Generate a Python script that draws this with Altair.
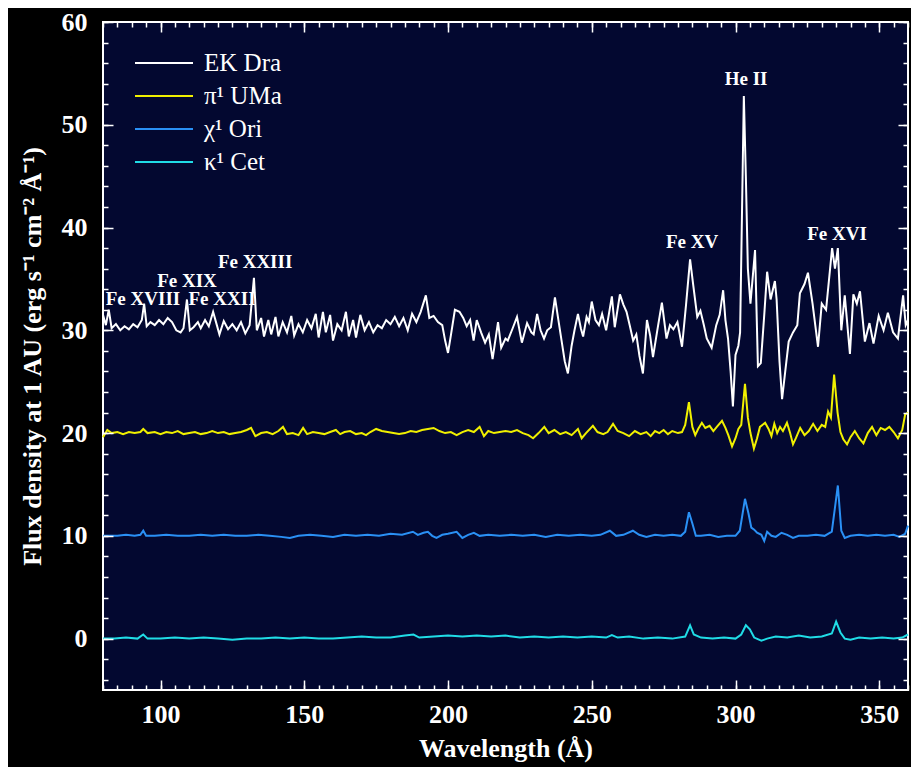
import altair as alt
import pandas as pd

# ---------------- data ----------------
series_names = ["EK Dra", "π¹ UMa", "χ¹ Ori", "κ¹ Cet"]
series_colors = ["#ffffff", "#f0f000", "#2a90f5", "#20dce6"]

ek_wl = [80, 81, 82, 83, 84.5, 86, 87.5, 89, 90.5, 92, 93.5, 94.3, 95.2, 96.5, 98, 99.5,
         101, 102.5, 104, 105.5, 107, 108, 109.2, 110.2, 111.5, 113, 114, 115.5, 116.8,
         118.3, 119.5, 120.5, 122, 123.5, 125, 126.5, 128, 129.5, 131, 132.5, 133.5, 135,
         136, 137.5, 138.5, 140, 141, 142.5, 144, 145.5, 146.5, 148, 149.5, 151, 152.5,
         154, 155, 156.5, 157.5, 159, 160, 161.5, 163, 164.5, 165.5, 167, 168, 169.5, 171,
         172.5, 174, 175.5, 177, 178.5, 180, 181.5, 183, 184.5, 186, 187.5, 189, 190.5,
         192.3, 193.5, 195, 196.5, 198, 199, 200, 201, 202.4, 204, 205.3, 206.5, 207.7,
         208.9, 210, 211.5, 212.9, 214.2, 215.5, 217.4, 218.5, 220, 220.8, 222.5, 224,
         225.7, 227.5, 229, 229.8, 231, 232.2, 233.4, 234.5, 235.8, 237.2, 238.4, 239.5,
         240.6, 241.7, 243, 244, 245.2, 246.2, 247, 248.2, 249, 250, 251.3, 252.5, 253.6,
         255, 257, 258, 259.8, 261, 262.1, 263.2, 264.4, 265.5, 266.6, 267.8, 269.2, 270.3,
         271.3, 272.8, 274.4, 276, 277.2, 278.4, 279.8, 281.4, 282.8, 284.2, 285.3, 286.7,
         287.8, 289, 290, 291.7, 293.3, 294.5, 295.7, 296.5, 297.4, 298.3, 299.1, 300.0,
         301.0, 301.6, 302.9, 303.6, 304.3, 305.2, 306.8, 307.8, 308.8, 310, 311, 312.2,
         313.7, 314.3, 315.3, 316.2, 317.3, 318.5, 320, 321.5, 322.4, 324, 325.2, 326.8,
         328.7, 330, 331.5, 333.6, 334.6, 335.6, 336.8, 338, 339.8, 341, 342.2, 343.3, 345,
         346.6, 348, 349.8, 351.5, 353, 354.8, 356.5, 358.3, 359.2, 360]
ek_flux = [31.5, 30.5, 32.0, 30.2, 30.6, 30.0, 30.4, 30.1, 30.6, 30.3, 31.0, 32.6, 30.4,
           30.8, 30.5, 31.0, 30.6, 31.2, 30.8, 30.0, 29.8, 30.2, 33.0, 30.0, 30.3, 30.8,
           30.2, 31.0, 30.4, 31.8, 30.6, 29.6, 30.9, 30.1, 30.6, 30.0, 30.8, 29.7, 30.5,
           35.1, 30.0, 31.2, 29.4, 31.0, 29.6, 31.3, 29.4, 30.8, 29.8, 31.4, 29.5, 30.6,
           29.8, 31.0, 30.2, 31.6, 29.3, 31.8, 29.8, 31.5, 29.0, 30.6, 30.0, 31.8, 29.4,
           31.0, 29.3, 31.5, 30.0, 30.8, 29.8, 30.5, 30.2, 31.0, 30.6, 31.3, 30.4, 31.2,
           30.0, 31.6, 30.8, 31.8, 33.4, 31.2, 31.4, 30.8, 30.5, 29.0, 27.8, 29.5, 32.0,
           31.8, 31.2, 30.4, 31.0, 29.0, 31.0, 29.8, 28.8, 29.6, 27.2, 30.8, 28.3, 29.2,
           29.0, 30.2, 31.3, 28.8, 30.7, 29.8, 29.6, 31.6, 30.0, 29.2, 30.0, 30.3, 33.2,
           31.0, 29.0, 27.0, 25.8, 28.5, 30.0, 31.6, 30.2, 29.4, 31.3, 30.8, 32.8, 31.0,
           30.5, 31.6, 30.0, 33.3, 30.3, 33.5, 32.5, 31.8, 30.5, 29.0, 29.6, 27.5, 25.8,
           31.0, 29.5, 27.4, 30.0, 32.7, 29.2, 30.5, 30.1, 30.8, 28.4, 32.5, 36.9, 34.4,
           31.3, 31.9, 30.5, 29.2, 28.3, 30.5, 31.5, 33.9, 31.0, 29.2, 26.0, 22.6, 27.6,
           28.5, 29.8, 52.8, 45.0, 36.0, 32.6, 37.8, 26.5, 26.8, 31.5, 35.7, 33.0, 34.8,
           33.0, 27.0, 23.3, 26.0, 28.9, 29.8, 30.5, 33.6, 34.5, 35.6, 32.6, 28.4, 32.6,
           32.0, 38.0, 36.0, 38.0, 30.0, 33.4, 27.7, 33.5, 32.6, 33.8, 28.9, 30.7, 28.7,
           31.4, 30.0, 31.7, 29.8, 29.2, 33.4, 30.5, 31.0]

pi_wl = [80, 81.5, 83, 85, 87, 89, 91, 93, 94, 95.5, 98, 100, 102, 104, 106, 108, 110, 112,
         114, 116, 118, 120, 122, 124, 126, 128, 130, 131.5, 133, 135, 137, 139, 141, 142.6,
         144, 146, 148, 149.6, 151, 153, 155, 157, 159, 161, 162.5, 164, 166, 168, 170,
         171.5, 173, 175, 177, 179, 181, 183, 185, 187, 189, 191, 193, 195, 197, 199, 201,
         203, 205, 207, 209, 211, 212.5, 214, 216, 218, 220, 222, 224, 226, 228, 229.6,
         231.5, 233.5, 235, 237, 239, 241, 243, 245.2, 246.5, 248, 250.4, 252, 254, 255.5,
         257.4, 259, 261, 263, 265, 267, 269, 270.5, 272, 273.5, 275, 276.5, 278, 280, 281.4,
         282.5, 283.8, 285, 286, 287, 288.3, 289.5, 291, 292.3, 293.5, 295.3, 296.5, 297.5,
         298.8, 300, 301, 302, 303.3, 304.3, 305.2, 306.4, 307.5, 308.5, 310.3, 311.5,
         312.5, 313.5, 314.5, 315.5, 316.5, 317.9, 319, 320, 321, 322.5, 324, 325.5, 327,
         328.5, 330, 331.2, 332.2, 333.2, 334.3, 335.5, 336.5, 337.5, 338.8, 340, 341.5,
         343, 344.5, 346, 347.5, 349, 350.5, 352, 353.5, 355, 356.5, 358, 359, 360]
pi_flux = [19.6, 20.3, 20.0, 20.1, 19.9, 20.1, 20.0, 20.1, 20.4, 20.0, 20.1, 19.9, 20.1,
           20.0, 20.2, 19.9, 20.0, 20.1, 19.9, 20.0, 20.2, 20.0, 20.1, 19.9, 20.0, 20.1,
           20.3, 20.5, 19.7, 20.0, 20.1, 19.9, 20.2, 20.6, 19.9, 20.0, 19.8, 20.5, 19.9,
           20.1, 20.0, 19.9, 20.1, 20.3, 19.9, 20.1, 20.2, 19.9, 20.0, 19.8, 20.1, 20.4,
           20.2, 20.1, 20.0, 19.9, 20.0, 20.2, 20.1, 20.3, 20.4, 20.5, 20.2, 20.0, 20.1,
           19.8, 20.1, 20.3, 20.1, 20.6, 19.7, 20.2, 20.0, 20.1, 20.2, 20.1, 20.3, 20.0,
           19.8, 19.5, 20.0, 20.6, 20.0, 20.3, 19.9, 20.1, 19.8, 20.4, 19.5, 20.0, 20.7,
           20.1, 19.9, 20.1, 20.9, 20.2, 20.0, 19.7, 20.2, 19.9, 20.1, 19.7, 20.2, 20.0,
           20.3, 19.9, 20.2, 20.0, 20.1, 20.8, 23.0, 20.6, 19.8, 20.4, 21.0, 20.5, 20.7,
           20.2, 20.6, 21.2, 20.5, 19.8, 18.7, 19.5, 20.4, 20.8, 24.8, 21.5, 20.0, 18.5,
           19.5, 20.6, 21.0, 20.4, 19.7, 20.9, 20.0, 20.6, 20.2, 21.0, 20.0, 18.9, 19.5,
           20.5, 19.8, 20.2, 20.9, 20.2, 20.8, 20.6, 22.1, 21.5, 25.7, 22.0, 20.1, 19.4,
           18.9, 19.6, 20.2, 19.5, 19.0, 20.0, 20.6, 19.8, 20.5, 20.3, 20.6, 20.1, 19.5,
           20.3, 21.8, 22.0]

chi_wl = [80, 82, 85, 88, 91, 93, 94, 95, 98, 102, 106, 110, 114, 118, 122, 126, 130, 134,
          138, 142, 145, 148, 152, 156, 160, 164, 168, 172, 176, 180, 184, 187.8, 189.5,
          191.5, 193, 194.5, 196, 198, 200, 203, 205, 207, 209, 211, 214, 218, 222, 226, 230,
          234, 238, 242, 246, 250, 253, 256.3, 258.5, 261, 264.3, 266.5, 269, 272, 275, 278,
          281, 282.5, 283.8, 285, 286.2, 288, 291, 294, 297, 300, 301.5, 303.3, 304.5,
          305.5, 306.5, 307.5, 309, 310, 311, 312.5, 314, 316, 318, 320, 322, 325, 328, 331,
          333.5, 335.6, 336.8, 338, 340, 343, 346, 349, 352, 355, 357, 359, 360]
chi_flux = [10.0, 10.0, 10.0, 10.1, 10.0, 10.1, 10.5, 10.0, 10.0, 10.1, 10.0, 10.0, 10.1,
            10.0, 10.1, 10.0, 10.0, 10.1, 10.0, 9.9, 9.8, 10.0, 10.1, 10.0, 9.9, 10.1, 10.0,
            10.1, 10.0, 10.2, 10.1, 10.4, 10.1, 10.3, 10.4, 10.0, 9.8, 10.1, 10.2, 10.4,
            9.8, 10.1, 10.3, 10.0, 10.1, 10.0, 10.1, 10.0, 10.1, 9.9, 10.1, 10.0, 10.1,
            10.0, 10.1, 10.5, 10.0, 10.1, 10.5, 10.1, 9.9, 10.1, 10.0, 10.1, 10.0, 10.4,
            12.3, 11.2, 10.0, 10.0, 10.1, 9.9, 10.0, 10.0, 10.5, 13.6, 12.2, 10.8, 10.6,
            10.3, 10.1, 9.5, 10.4, 10.0, 9.9, 10.3, 10.1, 9.8, 10.0, 10.0, 10.1, 10.0, 10.4,
            14.9, 10.5, 9.8, 10.0, 10.1, 10.0, 10.1, 10.0, 10.1, 9.9, 10.2, 11.0]

kap_wl = [80, 84, 88, 92, 94, 95.5, 100, 105, 110, 115, 120, 125, 130, 135, 140, 145, 150,
          155, 160, 165, 170, 175, 180, 185, 188, 190, 195, 200, 205, 210, 215, 220, 225,
          230, 235, 240, 245, 250, 255, 257, 259, 263, 268, 273, 278, 282.5, 284.2, 285.5,
          288, 292, 296, 300, 302, 303.6, 305, 306.5, 309, 311, 314, 318, 322, 326, 330,
          333.5, 335, 336.5, 338, 340, 343, 347, 351, 355, 358, 360]
kap_flux = [0.0, 0.0, 0.1, 0.0, 0.4, 0.0, 0.0, 0.1, 0.0, 0.1, 0.0, -0.1, 0.0, 0.0, 0.1,
            0.0, 0.1, 0.0, 0.0, 0.1, 0.2, 0.1, 0.1, 0.3, 0.4, 0.1, 0.2, 0.3, 0.2, 0.3, 0.2,
            0.3, 0.1, 0.2, 0.1, 0.2, 0.1, 0.2, 0.1, 0.35, 0.1, 0.2, 0.0, 0.1, 0.0, 0.2, 1.3,
            0.4, 0.1, 0.0, 0.1, 0.0, 0.4, 1.3, 0.9, 0.1, -0.2, 0.0, 0.2, 0.1, 0.3, 0.1, 0.2,
            0.5, 1.65, 0.6, 0.0, -0.1, 0.1, 0.0, 0.1, 0.0, 0.1, 0.4]

# line identifications (label, wavelength, flux position of the label)
ion_labels = ["Fe XVIII", "Fe XIX", "Fe XXII", "Fe XXIII", "Fe XV", "He II", "Fe XVI"]
ion_wl = [93.9, 109.2, 121.4, 132.9, 284.9, 303.7, 335.3]
ion_flux = [33.0, 34.8, 33.0, 36.6, 38.6, 54.5, 39.4]

x_major = [100, 150, 200, 250, 300, 350]
x_minor = list(range(80, 361, 5))
y_major = [0, 10, 20, 30, 40, 50, 60]
y_minor = list(range(-4, 61, 2))

# ---------------- build tables ----------------
frames = []
for name, wl, fl in zip(series_names,
                        [ek_wl, pi_wl, chi_wl, kap_wl],
                        [ek_flux, pi_flux, chi_flux, kap_flux]):
    frames.append(pd.DataFrame({"wl": wl, "flux": fl, "star": name}))
spec = pd.concat(frames, ignore_index=True)

ions = pd.DataFrame({"label": ion_labels, "wl": ion_wl, "flux": ion_flux})
legend_df = pd.DataFrame({"star": series_names, "row": list(range(len(series_names)))})

W, H = 805, 668
FONT = "Liberation Serif"

xscale = alt.Scale(domain=[80, 360], nice=False, zero=False)
yscale = alt.Scale(domain=[-5, 60], nice=False, zero=False)
cscale = alt.Scale(domain=series_names, range=series_colors)


def tick_axis(orient, values, size, **kw):
    """Axis whose ticks point into the plot: the axis is moved inward by its tick length."""
    return alt.Axis(orient=orient, values=values, offset=-size, tickSize=size,
                    tickWidth=1.5, tickColor="white", tickOpacity=1, domain=False,
                    grid=False, zindex=2, **kw)


no_labels = dict(labels=False, title=None)

lines = alt.Chart(spec).mark_line(strokeWidth=2).encode(
    x=alt.X("wl:Q", scale=xscale,
            axis=tick_axis("bottom", x_major, 10, title="Wavelength (Å)", format="d",
                           labelFont=FONT, labelFontSize=26, labelFontWeight="bold",
                           labelColor="white", labelPadding=11, titleFont=FONT,
                           titleFontSize=26, titleFontWeight="bold",
                           titleColor="white", titlePadding=8)),
    y=alt.Y("flux:Q", scale=yscale,
            axis=tick_axis("left", y_major, 10,
                           title="Flux density at 1 AU (erg s⁻¹ cm⁻² Å⁻¹)", format="d",
                           labelFont=FONT, labelFontSize=26, labelFontWeight="bold",
                           labelColor="white", labelPadding=16, titleFont=FONT,
                           titleFontSize=26, titleFontWeight="bold",
                           titleColor="white", titlePadding=16)),
    color=alt.Color("star:N", scale=cscale, legend=None),
    detail="star:N",
)

ion_text = alt.Chart(ions).mark_text(font=FONT, fontSize=19, fontWeight="bold",
                                     color="white").encode(
    x=alt.X("wl:Q", scale=xscale, axis=tick_axis("bottom", x_minor, 5, **no_labels)),
    y=alt.Y("flux:Q", scale=yscale, axis=tick_axis("left", y_minor, 5, **no_labels)),
    text="label:N",
)

# invisible carriers for the top and right frame ticks
top_major = alt.Chart(ions).mark_point(opacity=0).encode(
    x=alt.X("wl:Q", scale=xscale, axis=tick_axis("top", x_major, 10, **no_labels)),
    y=alt.Y("flux:Q", scale=yscale, axis=tick_axis("right", y_major, 10, **no_labels)),
)
top_minor = alt.Chart(ions).mark_point(opacity=0).encode(
    x=alt.X("wl:Q", scale=xscale, axis=tick_axis("top", x_minor, 5, **no_labels)),
    y=alt.Y("flux:Q", scale=yscale, axis=tick_axis("right", y_minor, 5, **no_labels)),
)

# legend rows: pixel row position computed from the row index (41 px first row, 33 px apart)
leg_base = alt.Chart(legend_df).transform_calculate(py="41 + 33 * datum.row")
leg_lines = leg_base.mark_rule(strokeWidth=2).encode(
    y=alt.Y("py:Q", scale=None, axis=None), x=alt.value(32), x2=alt.value(90),
    color=alt.Color("star:N", scale=cscale, legend=None),
)
leg_text = leg_base.mark_text(font=FONT, fontSize=25, color="white",
                              align="left", baseline="middle").encode(
    y=alt.Y("py:Q", scale=None, axis=None), x=alt.value(101), text="star:N",
)

chart = alt.layer(lines, ion_text, top_major, top_minor, leg_lines, leg_text
                  ).resolve_axis(x="independent", y="independent").properties(
    width=W, height=H,
    background="#000000",
    autosize=alt.AutoSizeParams(type="none"),
    padding={"left": 95, "top": 14, "right": 3, "bottom": 77},
).configure_view(fill="#030830", stroke="white", strokeWidth=2)

chart.save("out.html", embed_options={"renderer": "svg", "actions": False})
